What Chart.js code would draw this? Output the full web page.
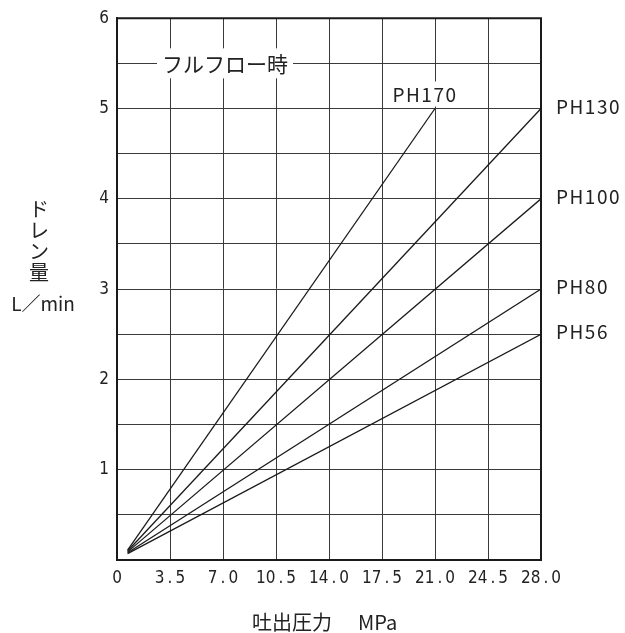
<!DOCTYPE html>
<html>
<head>
<meta charset="utf-8">
<script src="https://cdn.jsdelivr.net/npm/chart.js@4"></script>
<style>
  body { margin: 0; background: #fff; }
  #drainChart { display: block; }
</style>
</head>
<body>
<canvas id="drainChart" width="625" height="633"></canvas>
<script>
// series: straight lines from the near-origin point up to their end value
const seriesNames = ['PH170', 'PH130', 'PH100', 'PH80', 'PH56'];
const startPressure = [0.7, 0.7, 0.7, 0.7, 0.7];
const startDrain = [0.11, 0.10, 0.09, 0.08, 0.07];
const endPressure = [21.0, 28.0, 28.0, 28.0, 28.0];
const endDrain = [5.0, 5.0, 4.0, 3.0, 2.5];

const xTickLabels = ['0', '3.5', '7.0', '10.5', '14.0', '17.5', '21.0', '24.5', '28.0'];
const yTickLabels = ['1', '2', '3', '4', '5', '6'];

const jpFont = "'Noto Sans CJK JP', 'Noto Sans', sans-serif";
const numFont = "'Liberation Sans Narrow', 'DejaVu Sans Condensed', 'Roboto', sans-serif";

function buildDatasets() {
    return seriesNames.map((name, i) => ({
        label: name,
        data: [
            { x: startPressure[i], y: startDrain[i] },
            { x: endPressure[i], y: endDrain[i] }
        ],
        borderColor: '#1a1a1a',
        borderWidth: 1.3,
        pointRadius: 0,
        fill: false,
        tension: 0
    }));
}

// labels, frame and axis titles
const annotations = {
    id: 'annotations',
    afterDatasetsDraw(chart) {
        const ctx = chart.ctx;
        const xs = chart.scales.x;
        const ys = chart.scales.y;
        const area = chart.chartArea;
        ctx.save();

        // top and right frame
        ctx.strokeStyle = '#1a1a1a';
        ctx.lineWidth = 2;
        ctx.beginPath();
        ctx.moveTo(area.left, area.top);
        ctx.lineTo(area.right, area.top);
        ctx.lineTo(area.right, area.bottom);
        ctx.stroke();

        ctx.fillStyle = '#222';
        ctx.textBaseline = 'middle';

        // full flow label on the 5.5 line
        const ffy = ys.getPixelForValue(5.5);
        ctx.font = '21px ' + jpFont;
        ctx.textAlign = 'center';
        const ffx = 225;
        const w = ctx.measureText('フルフロー時').width;
        ctx.fillStyle = '#fff';
        ctx.fillRect(ffx - w / 2 - 5, ffy - 15, w + 10, 30);
        ctx.fillStyle = '#222';
        ctx.fillText('フルフロー時', ffx, ffy + 1);

        // series labels
        ctx.font = '19px ' + jpFont;
        ctx.letterSpacing = '1.5px';
        seriesNames.forEach((name, i) => {
            if (endPressure[i] < 28) {
                const px = xs.getPixelForValue(endPressure[i]);
                const py = ys.getPixelForValue(endDrain[i]);
                const tw = ctx.measureText(name).width;
                ctx.fillStyle = '#fff';
                ctx.fillRect(px - 10 - tw / 2 - 3, py - 27, tw + 6, 25);
                ctx.fillStyle = '#222';
                ctx.textAlign = 'center';
                ctx.fillText(name, px - 10, py - 14);
            } else {
                const py = ys.getPixelForValue(endDrain[i]);
                ctx.textAlign = 'left';
                ctx.fillText(name, area.right + 15, py - 2);
            }
        });
        ctx.letterSpacing = '0px';

        // y axis title, stacked
        ctx.font = '20px ' + jpFont;
        ctx.textAlign = 'center';
        ['ド', 'レ', 'ン', '量'].forEach((ch, i) => {
            ctx.fillText(ch, 39, 209 + i * 21);
        });
        ctx.font = '19px ' + jpFont;
        ctx.fillText('L／min', 43, 304);

        // x axis title
        ctx.font = '20px ' + jpFont;
        ctx.textAlign = 'left';
        ctx.fillText('吐出圧力', 252, 622);
        ctx.fillText('MPa', 358, 622);

        ctx.restore();
    }
};

function initializeChart() {
    const ctx = document.getElementById('drainChart').getContext('2d');

    new Chart(ctx, {
        type: 'line',
        data: { datasets: buildDatasets() },
        options: {
            responsive: false,
            animation: false,
            layout: {
                padding: { left: 0, top: 16, right: 84, bottom: 0 }
            },
            plugins: {
                legend: { display: false },
                tooltip: { enabled: false }
            },
            scales: {
                x: {
                    type: 'linear',
                    min: 0,
                    max: 28,
                    afterFit: scale => { scale.height = 73; },
                    afterBuildTicks: scale => {
                        scale.ticks = xTickLabels.map((_, i) => ({ value: i * 3.5 }));
                    },
                    grid: {
                        color: '#3a3a3a',
                        lineWidth: 1,
                        drawTicks: false
                    },
                    border: { color: '#1a1a1a', width: 2 },
                    ticks: {
                        padding: 8,
                        color: '#222',
                        maxRotation: 0,
                        autoSkip: false,
                        font: { family: numFont, size: 17 },
                        callback: (value, index) => xTickLabels[index].replace('.', '\u2009.\u2009')
                    }
                },
                y: {
                    type: 'linear',
                    min: 0,
                    max: 6,
                    afterFit: scale => { scale.width = 117; },
                    grid: {
                        color: '#3a3a3a',
                        lineWidth: 1,
                        drawTicks: false
                    },
                    border: { color: '#1a1a1a', width: 2 },
                    ticks: {
                        stepSize: 0.5,
                        padding: 8,
                        color: '#222',
                        autoSkip: false,
                        font: { family: numFont, size: 17 },
                        callback: value => {
                            const lbl = String(value);
                            return yTickLabels.includes(lbl) ? lbl : '';
                        }
                    }
                }
            }
        },
        plugins: [annotations]
    });
}

initializeChart();
</script>
</body>
</html>
